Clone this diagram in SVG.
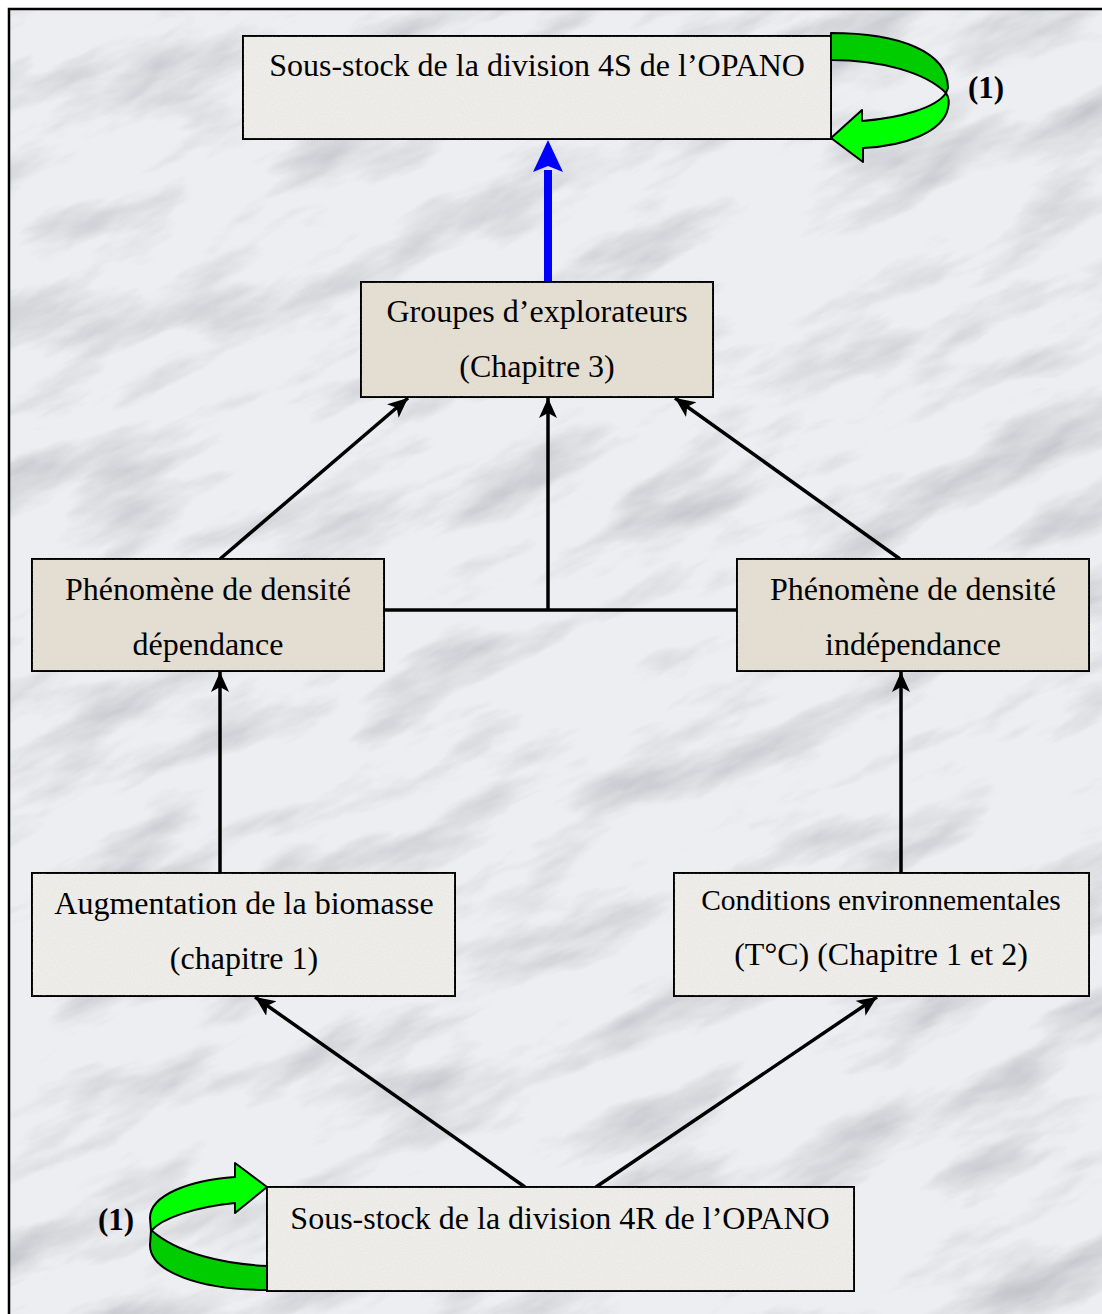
<svg xmlns="http://www.w3.org/2000/svg" width="1102" height="1314" viewBox="0 0 1102 1314">
<style>
.box{stroke:#000;stroke-width:2}
.light{fill:#f0efeb}
.beige{fill:#e6e0d3}
.t{font-family:"Liberation Serif","Times New Roman",serif;font-size:32px;fill:#000;text-anchor:middle}
.t2{font-family:"Liberation Serif","Times New Roman",serif;font-size:29.5px;fill:#000;text-anchor:middle}
.lbl{font-family:"Liberation Serif","Times New Roman",serif;font-size:31px;font-weight:bold;fill:#000;text-anchor:middle}
.c{stroke:#000;stroke-width:3.5;fill:none}
.g{stroke:#000;stroke-width:2;stroke-linejoin:round}
</style>
<defs>
<marker id="ah" markerUnits="userSpaceOnUse" markerWidth="24" markerHeight="20" refX="20" refY="9" orient="auto">
<path d="M0,0 L20,9 L0,18 L5,9 Z" fill="#000"/>
</marker>
<clipPath id="frame"><rect x="9" y="9" width="1100" height="1310"/></clipPath>
<filter id="marble" x="0" y="0" width="100%" height="100%">
<feTurbulence type="fractalNoise" baseFrequency="0.006 0.02" numOctaves="5" seed="7" result="n"/>
<feColorMatrix in="n" type="matrix" values="0 0 0 0 0.45  0 0 0 0 0.46  0 0 0 0 0.5  -2.2 0 0 0 1.15" result="v"/>
<feComposite in="v" in2="SourceGraphic" operator="in"/>
</filter>
<filter id="grain" x="0" y="0" width="100%" height="100%">
<feTurbulence type="fractalNoise" baseFrequency="0.9" numOctaves="2" seed="3" result="n"/>
<feColorMatrix in="n" type="matrix" values="0 0 0 0 0.6  0 0 0 0 0.58  0 0 0 0 0.55  0 0 0 0.35 -0.08" result="v"/>
<feComposite in="v" in2="SourceGraphic" operator="in"/>
</filter>
</defs>
<g id="background">
<rect x="0" y="0" width="1102" height="1314" fill="#ffffff"/>
<rect x="9" y="9" width="1100" height="1310" fill="#eceef1"/>
<g clip-path="url(#frame)">
<rect x="-500" y="-400" width="2100" height="2100" fill="#fff" filter="url(#marble)" transform="rotate(-25 551 657)" opacity="0.8"/>
</g>
<rect x="9" y="9" width="1100" height="1310" fill="none" stroke="#000" stroke-width="2.5"/>
</g>
<g id="connectors">
<line x1="548" y1="282" x2="548" y2="170" stroke="#0000ff" stroke-width="8"/>
<path d="M548,140 L563,172 L548,166 L533,172 Z" fill="#0000ff"/>
<line class="c" x1="220" y1="559" x2="408" y2="398" marker-end="url(#ah)"/>
<line class="c" x1="548" y1="610" x2="548" y2="398" marker-end="url(#ah)"/>
<line class="c" x1="900" y1="559" x2="675" y2="398" marker-end="url(#ah)"/>
<line class="c" x1="384" y1="610" x2="737" y2="610"/>
<line class="c" x1="220" y1="873" x2="220" y2="672" marker-end="url(#ah)"/>
<line class="c" x1="901" y1="873" x2="901" y2="672" marker-end="url(#ah)"/>
<line class="c" x1="525" y1="1187" x2="255" y2="997" marker-end="url(#ah)"/>
<line class="c" x1="596" y1="1187" x2="877" y2="997" marker-end="url(#ah)"/>
</g>
<g id="node-4s">
<rect class="box light" x="243" y="36" width="588" height="103"/>
<rect x="243" y="36" width="588" height="103" fill="#fff" filter="url(#grain)"/>
<text class="t" x="537" y="76">Sous-stock de la division 4S de l’OPANO</text>
</g>
<g id="loop-4s">
<path class="g" fill="#00cc00" d="M831,33 C900,33 948,52 948,88 L946,93 C925,72 880,60 831,60 Z"/>
<path class="g" fill="#00ff00" d="M946,93 C950,99 949,104 948,108 C943,132 905,146 863,148 L863,162 L831,138 L862,110 L862,121 C900,118 936,108 946,93 Z"/>
<text class="lbl" x="986" y="98">(1)</text>
</g>
<g id="node-groupes">
<rect class="box beige" x="361" y="282" width="352" height="115"/>
<rect x="361" y="282" width="352" height="115" fill="#fff" filter="url(#grain)"/>
<text class="t" x="537" y="322">Groupes d’explorateurs</text>
<text class="t" x="537" y="377">(Chapitre 3)</text>
</g>
<g id="node-dd">
<rect class="box beige" x="32" y="559" width="352" height="112"/>
<rect x="32" y="559" width="352" height="112" fill="#fff" filter="url(#grain)"/>
<text class="t" x="208" y="600">Phénomène de densité</text>
<text class="t" x="208" y="655">dépendance</text>
</g>
<g id="node-di">
<rect class="box beige" x="737" y="559" width="352" height="112"/>
<rect x="737" y="559" width="352" height="112" fill="#fff" filter="url(#grain)"/>
<text class="t" x="913" y="600">Phénomène de densité</text>
<text class="t" x="913" y="655">indépendance</text>
</g>
<g id="node-biomasse">
<rect class="box light" x="32" y="873" width="423" height="123"/>
<rect x="32" y="873" width="423" height="123" fill="#fff" filter="url(#grain)"/>
<text class="t" x="244" y="914">Augmentation de la biomasse</text>
<text class="t" x="244" y="969">(chapitre 1)</text>
</g>
<g id="node-env">
<rect class="box light" x="674" y="873" width="415" height="123"/>
<rect x="674" y="873" width="415" height="123" fill="#fff" filter="url(#grain)"/>
<text class="t2" x="881" y="910">Conditions environnementales</text>
<text class="t" x="881" y="965">(T°C) (Chapitre 1 et 2)</text>
</g>
<g id="node-4r">
<rect class="box light" x="267" y="1187" width="587" height="104"/>
<rect x="267" y="1187" width="587" height="104" fill="#fff" filter="url(#grain)"/>
<text class="t" x="560" y="1229">Sous-stock de la division 4R de l’OPANO</text>
</g>
<g id="loop-4r">
<path class="g" fill="#00cc00" d="M151,1230 C178,1254 225,1264 267,1266 L267,1290 C200,1290 150,1272 150,1245 Z"/>
<path class="g" fill="#00ff00" d="M150,1218 C150,1195 190,1180 235,1177 L235,1163 L267,1187 L235,1213 L235,1203 C195,1207 162,1218 151,1231 Z"/>
<text class="lbl" x="116" y="1230">(1)</text>
</g>
</svg>
